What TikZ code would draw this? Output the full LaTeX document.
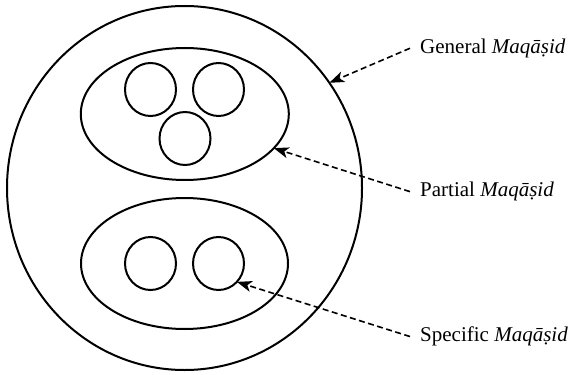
\documentclass[tikz,border=0pt]{standalone}
\usepackage{fontspec}
\setmainfont{Liberation Serif}
\usetikzlibrary{shapes.geometric,arrows.meta}
\tikzset{
  shapeline/.style={draw=black, line width=2pt, ellipse, inner sep=0pt, outer sep=0pt},
  small/.style={shapeline, minimum width=51pt, minimum height=53pt},
  lbl/.style={anchor=base west, inner xsep=10pt, inner ysep=2pt, font=\fontsize{21}{25}\selectfont},
  arr/.style={draw=black, line width=1.6pt, dash pattern=on 6pt off 3.5pt,
    -{Stealth[length=15pt, width=11pt, inset=4pt]}}
}
\begin{document}
\begin{tikzpicture}[x=1pt, y=-1pt]
\useasboundingbox (0,0) rectangle (569,374);
% outer
\node[shapeline, minimum width=355pt, minimum height=364pt] (outer) at (184.5,188) {};
% inner ellipses
\node[shapeline, minimum width=208pt, minimum height=132pt] (upper) at (184.8,114) {};
\node[shapeline, minimum width=207pt, minimum height=131pt] (lower) at (184.5,263.5) {};
% small circles
\node[small] (c1) at (150.5,89.5) {};
\node[small] (c2) at (218.5,89.5) {};
\node[small] (c3) at (185,138.5) {};
\node[small] (c4) at (150.5,263.5) {};
\node[small] (c5) at (218.5,263.5) {};
% labels
\node[lbl] (gen) at (410,53.3) {General \textit{Maqāṣid}};
\node[lbl] (par) at (410,196.7) {Partial \textit{Maqāṣid}};
\node[lbl] (spe) at (410,341.7) {Specific \textit{Maqāṣid}};
% arrows
\draw[arr] (gen.west) -- (outer.36.3);
\draw[arr] (par.west) -- (upper.-21.2);
\draw[arr] (spe.west) -- (c5.-45);
\end{tikzpicture}
\end{document}
